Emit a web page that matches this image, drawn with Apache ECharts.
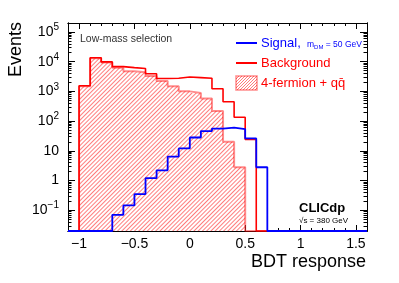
<!DOCTYPE html>
<html><head><meta charset="utf-8">
<script src="https://cdn.jsdelivr.net/npm/echarts@6/dist/echarts.min.js"></script>
<style>html,body{margin:0;padding:0;background:#fff}#c{width:399px;height:283px}</style>
</head><body><div id="c"></div>
<script>
// ---- data ----
const binLowEdges = [-1.0,-0.9,-0.8,-0.7,-0.6,-0.5,-0.4,-0.3,-0.2,-0.1,0.0,0.1,0.2,0.3,0.4,0.5,0.6];
const binWidth = 0.1;
const background    = [1550,13500,9800,6800,6300,5900,3900,2700,2750,3050,2900,2750,1230,450,135,24,0];
const fourFermionQQ = [1500,13000,9300,6200,4800,4400,3300,2250,1500,1000,880,580,220,20,2.8,0,0];
const signal        = [0,0,0,0.07,0.145,0.35,1.2,2.2,6.4,12,28,46,56,60,54,26,2.8];
const xMajorTicks = [-1,-0.5,0,0.5,1,1.5];
const xMinorTicks = [-0.9,-0.8,-0.7,-0.6,-0.4,-0.3,-0.2,-0.1,0.1,0.2,0.3,0.4,0.6,0.7,0.8,0.9,1.1,1.2,1.3,1.4];
const yMajorTicks = [0.1,1,10,100,1000,10000,100000];
const yMinorMultipliers = [2,3,4,5,6,7,8,9];
const yDecades = [0.01,0.1,1,10,100,1000,10000,100000];

const X_MIN = -1.1, X_MAX = 1.6, Y_MIN = 0.02, Y_MAX = 2e5;
const FONT = 'Liberation Sans';
const HATCH_COLOR = 'rgb(255,125,125)';

const yMinorTicks = [];
yDecades.forEach(d => yMinorMultipliers.forEach(m => {
  const v = +(d*m).toPrecision(3);
  if (v > Y_MIN && v < Y_MAX) yMinorTicks.push(v);
}));

function clampY(v){ return v > Y_MIN ? v : Y_MIN; }
function stepPoints(values, extendToAxis){
  const pts = [];
  if (extendToAxis) pts.push([X_MIN, Y_MIN]);
  pts.push([binLowEdges[0], Y_MIN]);
  values.forEach((v,i) => pts.push([binLowEdges[i], clampY(v)]));
  const end = +(binLowEdges[binLowEdges.length-1] + binWidth).toFixed(2);
  pts.push([end, Y_MIN]);
  if (extendToAxis) pts.push([X_MAX, Y_MIN]);
  return pts;
}

function hatchCanvas(){
  const n = 3;
  const c = document.createElement('canvas');
  c.width = n; c.height = n;
  const ctx = c.getContext('2d');
  const img = ctx.createImageData(n, n);
  for (let y = 0; y < n; y++) for (let x = 0; x < n; x++) {
    const i = (y*n + x)*4;
    if ((x + y) % n === n-1) { img.data[i]=255; img.data[i+1]=125; img.data[i+2]=125; img.data[i+3]=255; }
    else { img.data[i]=255; img.data[i+1]=255; img.data[i+2]=255; img.data[i+3]=255; }
  }
  ctx.putImageData(img, 0, 0);
  return c;
}
const hatch = hatchCanvas();

function xAxisDef(pos, ticks, len, labels){
  return {
    type:'value', min:X_MIN, max:X_MAX, position:pos,
    axisLine:{show:true, onZero:false, lineStyle:{color:'#000', width:1}},
    axisTick:{show:true, inside:true, length:len, customValues:ticks, lineStyle:{color:'#000', width:1}},
    axisLabel:{show:!!labels, customValues:ticks, margin:6, fontSize:14, color:'#000', fontFamily:FONT,
      formatter: v => (v < 0 ? '\u2212' + Math.abs(v) : String(v))},
    splitLine:{show:false}
  };
}
function yAxisDef(pos, ticks, len, labels){
  return {
    type:'log', logBase:10, min:Y_MIN, max:Y_MAX, position:pos,
    axisLine:{show:true, onZero:false, lineStyle:{color:'#000', width:1}},
    axisTick:{show:true, inside:true, length:len, customValues:ticks, lineStyle:{color:'#000', width:1}},
    axisLabel:{show:!!labels, customValues:ticks, margin:9, color:'#000', fontFamily:FONT, fontSize:14,
      formatter: v => {
        const e = Math.round(Math.log10(v));
        if (e === 0) return '{b|1}';
        if (e === 1) return '{b|10}';
        return '{b|10}{s|' + (e < 0 ? '\u2212' + (-e) : e) + '}';
      },
      rich:{ b:{fontSize:14, fontFamily:FONT, color:'#000'}, s:{fontSize:10, fontFamily:FONT, color:'#000', padding:[0,0,9,0]} }
    },
    splitLine:{show:false}
  };
}

const chart = echarts.init(document.getElementById('c'), null, {renderer:'canvas'});
chart.setOption({
  animation:false,
  backgroundColor:'#fff',
  grid:{left:68, right:32, top:23, bottom:52, containLabel:false},
  xAxis:[
    xAxisDef('bottom', xMajorTicks, 6, true),
    xAxisDef('bottom', xMinorTicks, 3, false),
    xAxisDef('top', xMajorTicks, 6, false),
    xAxisDef('top', xMinorTicks, 3, false)
  ],
  yAxis:[
    yAxisDef('left', yMajorTicks, 7, true),
    yAxisDef('left', yMinorTicks, 3.5, false),
    yAxisDef('right', yMajorTicks, 7, false),
    yAxisDef('right', yMinorTicks, 3.5, false)
  ],
  series:[
    { name:'4-fermion + qq', type:'line', step:'end', symbol:'none', xAxisIndex:0, yAxisIndex:0,
      data: stepPoints(fourFermionQQ, false),
      itemStyle:{color:'rgba(255,0,0,0.45)',
        decal:{symbol:'rect', symbolSize:1, color:HATCH_COLOR, backgroundColor:null,
               dashArrayX:[1,0], dashArrayY:[1,1.4], rotation:-Math.PI/4}},
      lineStyle:{color:'rgba(255,0,0,0.45)', width:2},
      areaStyle:{origin:'start', color:'#ffffff', opacity:1},
      z:2 },
    { name:'Background', type:'line', step:'end', symbol:'none', xAxisIndex:0, yAxisIndex:0,
      data: stepPoints(background, false),
      lineStyle:{color:'#ff0000', width:1.6}, z:3 },
    { name:'Signal', type:'line', step:'end', symbol:'none', xAxisIndex:0, yAxisIndex:0,
      data: stepPoints(signal, true),
      lineStyle:{color:'#0000ff', width:1.8}, z:4 }
  ],
  graphic:[
    { type:'text', x:16, y:22, rotation:Math.PI/2,
      style:{text:'Events', fill:'#000', font:'18px "Liberation Sans"', align:'right', verticalAlign:'middle'} },
    { type:'text', x:366, y:262,
      style:{text:'BDT response', fill:'#000', font:'18px "Liberation Sans"', align:'right', verticalAlign:'middle'} },
    { type:'text', x:80, y:39,
      style:{text:'Low-mass selection', fill:'#333', font:'10.5px "Liberation Sans"', align:'left', verticalAlign:'middle'} },
    { type:'text', x:299, y:208,
      style:{text:'CLICdp', fill:'#000', font:'bold 13px "Liberation Sans"', align:'left', verticalAlign:'middle'} },
    { type:'text', x:299, y:221,
      style:{text:'\u221As = 380 GeV', fill:'#000', font:'8px "Liberation Sans"', align:'left', verticalAlign:'middle'} },
    // legend
    { type:'line', shape:{x1:236, y1:43, x2:257, y2:43}, style:{stroke:'#0000ff', lineWidth:2}, z:10 },
    { type:'text', x:261, y:43, z:10,
      style:{text:'Signal,', fill:'#0000ff', font:'13px "Liberation Sans"', align:'left', verticalAlign:'middle'} },
    { type:'text', x:307, y:45, z:10,
      style:{text:'{m|m}{d|DM}{m| = 50 GeV}', align:'left', verticalAlign:'middle',
        rich:{ m:{fontSize:8.5, fontFamily:FONT, fill:'#0000ff', color:'#0000ff'},
               d:{fontSize:6, fontFamily:FONT, fill:'#0000ff', color:'#0000ff', padding:[4,0,0,0]} } } },
    { type:'line', shape:{x1:236, y1:63, x2:257, y2:63}, style:{stroke:'#ff0000', lineWidth:2}, z:10 },
    { type:'text', x:261, y:63, z:10,
      style:{text:'Background', fill:'#ff0000', font:'13px "Liberation Sans"', align:'left', verticalAlign:'middle'} },
    { type:'rect', shape:{x:236, y:76, width:21, height:14}, z:10,
      style:{fill:{image:hatch, repeat:'repeat'}, stroke:'rgba(255,0,0,0.45)', lineWidth:1.5} },
    { type:'text', x:261, y:83, z:10,
      style:{text:'4-fermion + qq\u0304', fill:'#ff0000', font:'13px "Liberation Sans"', align:'left', verticalAlign:'middle'} }
  ]
});
</script></body></html>
